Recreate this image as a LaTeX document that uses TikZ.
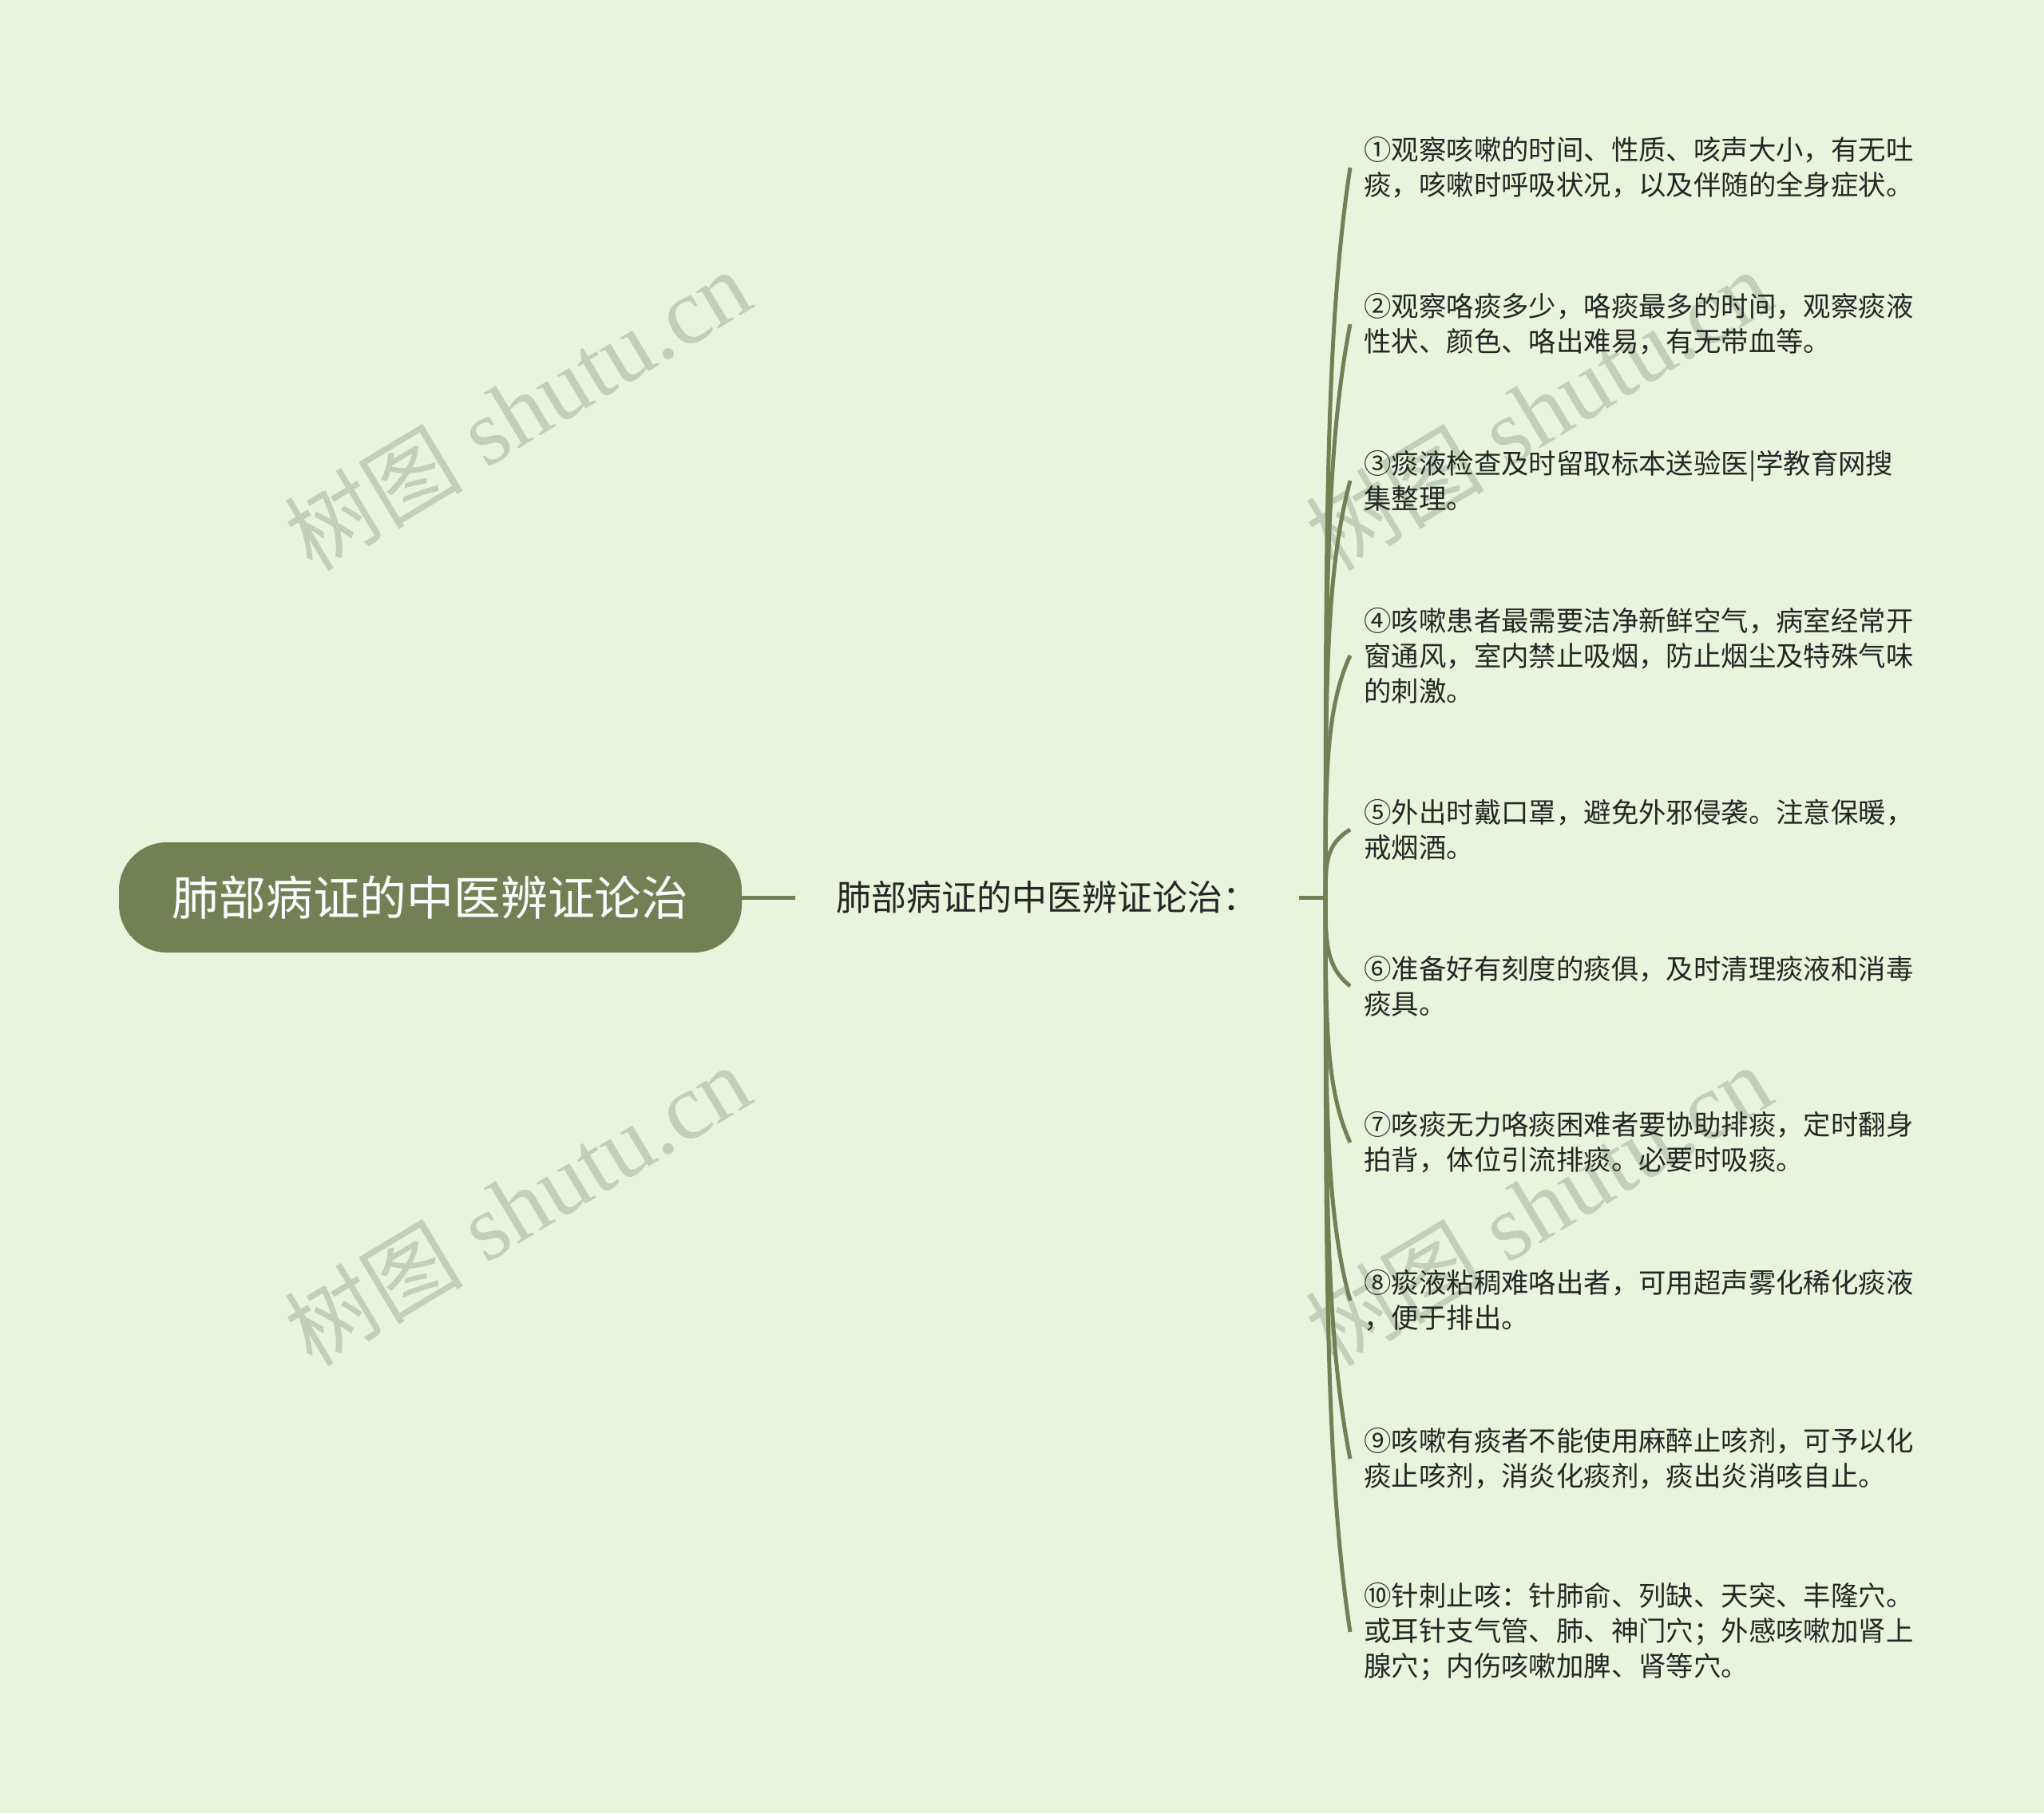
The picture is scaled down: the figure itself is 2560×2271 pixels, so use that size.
\documentclass[tikz,border=0pt]{standalone}
\usepackage{fontspec}
\setmainfont{Noto Sans CJK SC}
\newfontfamily\wmfont{Liberation Serif}
\usepackage{tikz}
\usetikzlibrary{positioning}
\usetikzlibrary{calc}

\definecolor{bgcol}{HTML}{E8F5DC}
\definecolor{olive}{HTML}{738055}
\definecolor{wmcol}{HTML}{C3D0B9}
\definecolor{ink}{HTML}{262626}

\begin{document}
\begin{tikzpicture}
		[x=0.5pt, y=-0.5pt,
		rootnode/.style = {fill=olive, text=white, rounded corners=30pt, minimum width=390pt, minimum height=69pt, font=\fontsize{29.4pt}{36pt}\selectfont},
		midnode/.style = {text=ink, inner xsep=25.5pt, font=\fontsize{22pt}{27pt}\selectfont},
		leafnode/.style = {text=ink, anchor=west, align=left, inner xsep=8.5pt, font=\fontsize{17.2pt}{22pt}\selectfont},
		wmark/.style = {text=wmcol, rotate=31, font=\wmfont\fontsize{59pt}{66pt}\selectfont},
		branch/.style = {draw=olive, line width=2.5pt, to path={.. controls ($(\tikztostart)!0.5!(\tikztostart |- \tikztotarget)$) and ($(\tikztostart |- \tikztotarget)!0.22!(\tikztostart)$) .. (\tikztotarget)}}]
        \fill[bgcol] (0,0) rectangle (2560,2271);

        \node[wmark] (w1) at (648,514) {{\rmfamily\fontsize{56pt}{66pt}\selectfont 树图} shutu.cn};
        \node[wmark] (w2) at (648,1510) {{\rmfamily\fontsize{56pt}{66pt}\selectfont 树图} shutu.cn};
        \node[wmark] (w3) at (1927,514) {{\rmfamily\fontsize{56pt}{66pt}\selectfont 树图} shutu.cn};
        \node[wmark] (w4) at (1927,1510) {{\rmfamily\fontsize{56pt}{66pt}\selectfont 树图} shutu.cn};

        \node[rootnode] (root) at (539,1124) {肺部病证的中医辨证论治};
        \node[midnode] (mid) [right=33.5pt of root] {肺部病证的中医辨证论治：};
        \coordinate[right=16.5pt of mid] (j);

        \node[leafnode] (l1) at (1691,210) {①观察咳嗽的时间、性质、咳声大小，有无吐\\痰，咳嗽时呼吸状况，以及伴随的全身症状。};
        \node[leafnode] (l2) at (1691,406) {②观察咯痰多少，咯痰最多的时间，观察痰液\\性状、颜色、咯出难易，有无带血等。};
        \node[leafnode] (l3) at (1691,602) {③痰液检查及时留取标本送验医|学教育网搜\\集整理。};
        \node[leafnode] (l4) at (1691,821) {④咳嗽患者最需要洁净新鲜空气，病室经常开\\窗通风，室内禁止吸烟，防止烟尘及特殊气味\\的刺激。};
        \node[leafnode] (l5) at (1691,1039) {⑤外出时戴口罩，避免外邪侵袭。注意保暖，\\戒烟酒。};
        \node[leafnode] (l6) at (1691,1235) {⑥准备好有刻度的痰俱，及时清理痰液和消毒\\痰具。};
        \node[leafnode] (l7) at (1691,1431) {⑦咳痰无力咯痰困难者要协助排痰，定时翻身\\拍背，体位引流排痰。必要时吸痰。};
        \node[leafnode] (l8) at (1691,1629) {⑧痰液粘稠难咯出者，可用超声雾化稀化痰液\\，便于排出。};
        \node[leafnode] (l9) at (1691,1827) {⑨咳嗽有痰者不能使用麻醉止咳剂，可予以化\\痰止咳剂，消炎化痰剂，痰出炎消咳自止。};
        \node[leafnode] (l10) at (1691,2044) {⑩针刺止咳：针肺俞、列缺、天突、丰隆穴。\\或耳针支气管、肺、神门穴；外感咳嗽加肾上\\腺穴；内伤咳嗽加脾、肾等穴。};

        \draw[branch] (root) -- (mid);
        \draw[branch] (mid) -- (j);
        \draw[branch] (j) to (l1.west);
        \draw[branch] (j) to (l2.west);
        \draw[branch] (j) to (l3.west);
        \draw[branch] (j) to (l4.west);
        \draw[branch] (j) to (l5.west);
        \draw[branch] (j) to (l6.west);
        \draw[branch] (j) to (l7.west);
        \draw[branch] (j) to (l8.west);
        \draw[branch] (j) to (l9.west);
        \draw[branch] (j) to (l10.west);
	\end{tikzpicture}
\end{document}
